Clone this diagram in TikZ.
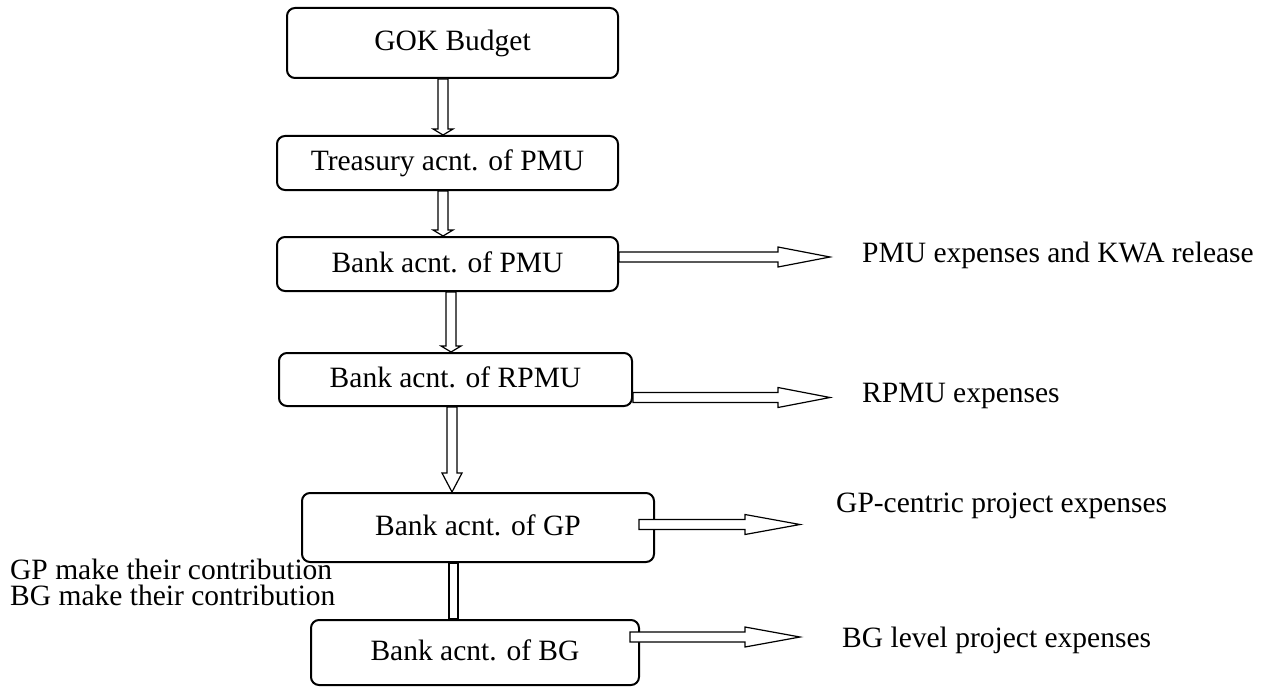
\documentclass[tikz,border=0pt]{standalone}
\usepackage{fontspec}
\setmainfont{Liberation Serif}
\usepackage{tikz}
\usetikzlibrary{calc}
\usetikzlibrary{positioning}

\tikzset{
  acnt/.style={draw, line width=2pt, rounded corners=8pt, inner sep=0pt,
               text height=20pt, text depth=4pt},
  flow/.style={draw, fill=white, line width=1.2pt, line join=miter},
  downflow/.style={flow, to path={let \p1=(\tikztostart), \p2=(\tikztotarget) in
    (\x1-5pt,\y1) -- (\x1-5pt,\y2+#1) -- (\x1-10pt,\y2+#1) -- (\x1,\y2)
    -- (\x1+10pt,\y2+#1) -- (\x1+5pt,\y2+#1) -- (\x1+5pt,\y1) -- cycle}},
  downflow/.default=6pt,
  sideflow/.style={flow, to path={let \p1=(\tikztostart), \p2=(\tikztotarget) in
    (\x1,\y1-5pt) -- (\x2-#1,\y1-5pt) -- (\x2-#1,\y1-10pt) -- (\x2,\y1)
    -- (\x2-#1,\y1+10pt) -- (\x2-#1,\y1+5pt) -- (\x1,\y1+5pt) -- cycle}},
  sideflow/.default=52pt,
  flowbar/.style={flow, to path={let \p1=(\tikztostart), \p2=(\tikztotarget) in
    (\x1-4.5pt,\y1) rectangle (\x1+4.5pt,\y2)}}
}

\begin{document}
\begin{tikzpicture}[
    x=1pt, y=-1pt,
every node/.style = {inner sep=2pt, font=\fontsize{29.5}{35}\selectfont}]
\useasboundingbox (0,0) rectangle (1265,687);

\node[acnt, minimum width=331pt, minimum height=70pt] (gok) at (452.5,43) {GOK Budget};
\node[acnt, minimum width=341pt, minimum height=54pt] (treas) at (447.5,163) {Treasury acnt. of PMU};
\node[acnt, minimum width=341pt, minimum height=54pt] (pmu) at (447.5,264) {Bank acnt. of PMU};
\node[acnt, minimum width=353pt, minimum height=53pt] (rpmu) at (455.5,379.5) {Bank acnt. of RPMU};
\node[acnt, minimum width=352pt, minimum height=69pt] (gp) at (478,527.5) {Bank acnt. of GP};
\node[acnt, minimum width=328pt, minimum height=65pt] (bg) at (475,652.5) {Bank acnt. of BG};

\node[anchor=base west] (pmux) at (860,262) {PMU expenses and KWA release};
\node[anchor=base west] (rpmux) at (860,402) {RPMU expenses};
\node[anchor=base west] (gpx) at (834,512) {GP-centric project expenses};
\node[anchor=base west] (bgx) at (840,647) {BG level project expenses};
\node[anchor=north west, align=left, font=\fontsize{29.5}{26}\selectfont]
  (contrib) at (8,557) {GP make their contribution\\BG make their contribution};

\draw[downflow] ([xshift=-9.5pt]gok.south) to (treas.north);
\draw[downflow] ([xshift=-4.5pt]treas.south) to (pmu.north);
\draw[downflow] ([xshift=3.5pt]pmu.south) to (rpmu.north);
\draw[downflow=19pt] ([xshift=-3.5pt]rpmu.south) to (gp.north);
\draw[flowbar] ([xshift=-24.5pt]gp.south) to (bg.north);

\draw[sideflow] ([yshift=7pt]pmu.east) to ([xshift=-30pt]pmux.west);
\draw[sideflow] ([yshift=-18pt]rpmu.east) to ([xshift=-30pt]rpmux.west);
\draw[sideflow=55pt] ([xshift=-16pt,yshift=3pt]gp.east) to ([xshift=-34pt]gpx.west);
\draw[sideflow=55pt] ([xshift=-10pt,yshift=15.5pt]bg.east) to ([xshift=-40pt]bgx.west);
\end{tikzpicture}
\end{document}
